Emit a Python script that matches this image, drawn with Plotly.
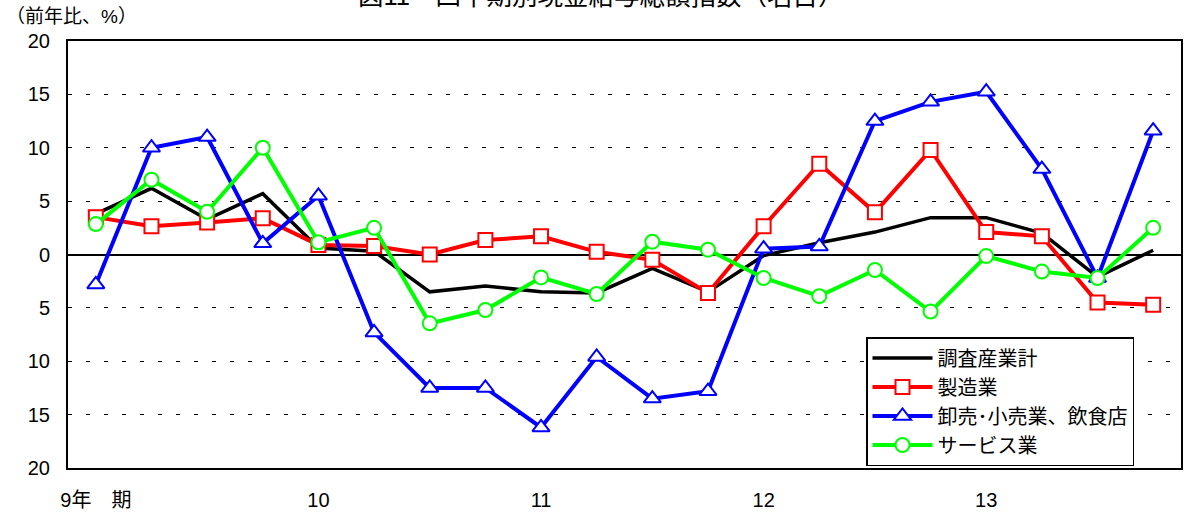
import plotly.graph_objects as go

# Quarterly periods 1997 Q1 .. 2001 Q4
periods = list(range(20))
x_tick_pos = [0, 4, 8, 12, 16]
x_tick_labels = ["9年　期", "10", "11", "12", "13"]

y_tick_vals = [-20, -15, -10, -5, 0, 5, 10, 15, 20]
y_tick_labels = ["20", "15", "10", "5", "0", "5", "10", "15", "20"]

series_names = ["調査産業計", "製造業", "卸売･小売業、飲食店", "サービス業"]

total = [3.8, 6.2, 3.3, 5.7, 0.6, 0.3, -3.5, -2.95, -3.5, -3.6,
         -1.3, -3.5, -0.1, 1.1, 2.1, 3.45, 3.45, 2.0, -2.1, 0.4]
manufacturing = [3.5, 2.65, 3.0, 3.4, 0.9, 0.8, 0.0, 1.35, 1.7, 0.25,
                 -0.5, -3.6, 2.65, 8.5, 3.95, 9.8, 2.1, 1.7, -4.5, -4.7]
wholesale = [-2.8, 10.0, 11.0, 1.05, 5.5, -7.3, -12.5, -12.5, -16.2, -9.6,
             -13.5, -12.8, 0.55, 0.75, 12.5, 14.3, 15.25, 8.0, -2.2, 11.6]
services = [2.85, 7.0, 4.0, 10.0, 1.15, 2.5, -6.45, -5.2, -2.15, -3.7,
            1.2, 0.45, -2.2, -3.9, -1.45, -5.35, -0.15, -1.6, -2.2, 2.5]

title_text = "図11　四半期別現金給与総額指数（名目）"
unit_text = "（前年比、%）"

FONT = "Liberation Sans, Arial, Noto Sans CJK JP, sans-serif"

fig = go.Figure()

fig.add_trace(go.Scatter(
    x=periods, y=total, name=series_names[0], mode="lines",
    line=dict(color="black", width=3.5)))
fig.add_trace(go.Scatter(
    x=periods, y=manufacturing, name=series_names[1], mode="lines+markers",
    line=dict(color="#FF0000", width=4),
    marker=dict(symbol="square", size=14, color="white",
                line=dict(color="#FF0000", width=2))))
fig.add_trace(go.Scatter(
    x=periods, y=wholesale, name=series_names[2], mode="lines+markers",
    line=dict(color="#0000FF", width=4),
    marker=dict(symbol="triangle-up", size=15, color="white",
                line=dict(color="#0000FF", width=2))))
fig.add_trace(go.Scatter(
    x=periods, y=services, name=series_names[3], mode="lines+markers",
    line=dict(color="#00FF00", width=4),
    marker=dict(symbol="circle", size=14, color="white",
                line=dict(color="#00FF00", width=2))))

fig.update_layout(
    width=1184, height=512,
    margin=dict(l=68, r=3, t=41, b=44, autoexpand=False),
    paper_bgcolor="white", plot_bgcolor="white",
    font=dict(family=FONT, size=20, color="black"),
    showlegend=True,
    legend=dict(
        x=(866 - 68) / 1113, y=(468 - 337) / 427,
        xanchor="left", yanchor="top",
        bgcolor="white", bordercolor="black", borderwidth=1.5,
        font=dict(family=FONT, size=20, color="black"),
        itemwidth=60,
    ),
    xaxis=dict(
        range=[-0.5, 19.5], tickmode="array",
        tickvals=x_tick_pos, ticktext=x_tick_labels,
        showgrid=False, zeroline=False, automargin=False,
        showline=True, linecolor="black", linewidth=2, mirror=True,
        ticks="", ticklabelstandoff=13,
        tickfont=dict(family=FONT, size=20, color="black"),
    ),
    yaxis=dict(
        range=[-20, 20], tickmode="array",
        tickvals=y_tick_vals, ticktext=y_tick_labels,
        showgrid=True, gridcolor="black", gridwidth=1, griddash="4px,14px",
        zeroline=True, zerolinecolor="black", zerolinewidth=1.5,
        automargin=False,
        showline=True, linecolor="black", linewidth=2, mirror=True,
        ticks="", ticklabelstandoff=12,
        tickfont=dict(family=FONT, size=20, color="black"),
    ),
    annotations=[
        dict(text=title_text, xref="paper", yref="paper",
             x=(356 - 68) / 1113, y=(468 + 4) / 427,
             xanchor="left", yanchor="middle", showarrow=False,
             font=dict(family=FONT, size=25.5, color="black")),
        dict(text=unit_text, xref="paper", yref="paper",
             x=(4 - 68) / 1113, y=(468 - 17) / 427,
             xanchor="left", yanchor="middle", showarrow=False,
             font=dict(family=FONT, size=19, color="black")),
    ],
)

fig.write_html(
    "out.html",
    config={"displayModeBar": False},
    post_script="document.body.style.margin='0';document.body.style.overflow='hidden';",
)
